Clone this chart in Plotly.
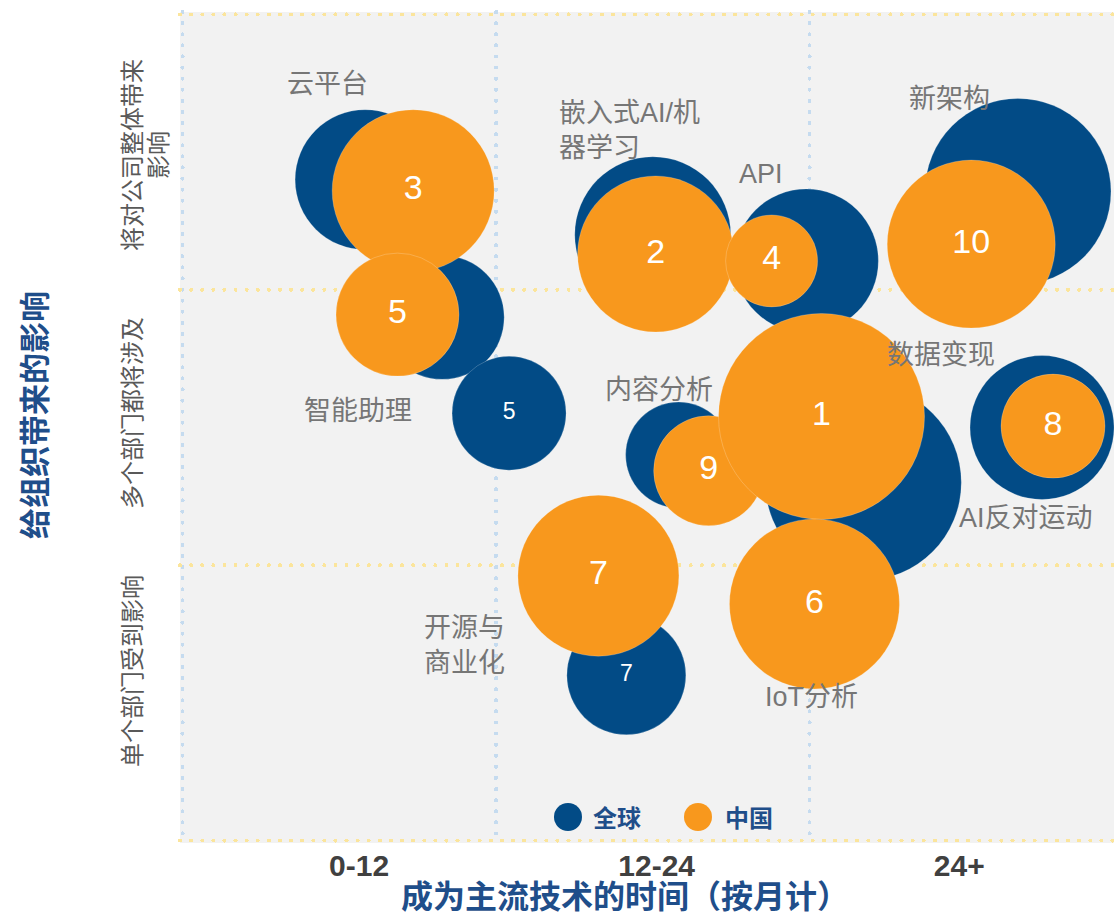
import plotly.graph_objects as go

# ---------------- data ----------------
# x: months until mainstream (0-36), y: impact level (0-3)
global_x = [6.99, 18.0, 23.88, 31.98, 9.94, 12.50, 18.99, 26.06, 32.90, 16.99]
global_y = [2.40, 2.20, 2.105, 2.357, 1.90, 1.552, 1.40, 1.30, 1.50, 0.60]
global_size = [140, 156, 144, 186, 124, 114, 106, 196, 144, 119]
global_rank = ["", "", "", "", "", "5", "", "", "", "7"]

china_x = [8.83, 8.23, 18.11, 22.55, 30.19, 20.14, 24.46, 33.32, 15.92, 24.19]
china_y = [2.36, 1.91, 2.13, 2.105, 2.166, 1.343, 1.54, 1.505, 0.962, 0.859]
china_size = [162, 123, 156, 92, 168, 110, 206, 104, 161, 170]
china_rank = ["3", "5", "2", "4", "10", "9", "1", "8", "7", "6"]

tech_labels = ["云平台", "嵌入式AI/机<br>器学习", "API", "新架构", "智能助理",
               "内容分析", "数据变现", "AI反对运动", "开源与<br>商业化", "IoT分析"]
label_x = [5.54, 14.33, 22.16, 29.35, 6.73, 18.23, 29.04, 32.29, 10.78, 24.07]
label_y = [2.747, 2.578, 2.419, 2.693, 1.56, 1.635, 1.765, 1.173, 0.708, 0.52]
label_anchor = ["center", "left", "center", "center", "center",
                "center", "center", "center", "center", "center"]

x_ticks = ["0-12", "12-24", "24+"]
x_tick_pos = [6.76, 18.15, 29.73]
y_levels = ["单个部门受到影响", "多个部门都将涉及", "将对公司整体带来"]
series_names = ["全球", "中国"]

# ---------------- style ----------------
BLUE = "#024B86"
ORANGE = "#F8981D"
TITLE_BLUE = "#1F4E8A"
GRAY = "#767676"
FONT = "Liberation Sans, Arial, Noto Sans CJK SC, sans-serif"

W, H = 1114, 915
ML, MR, MT, MB = 180, 0, 12, 72
PW, PH = W - ML - MR, H - MT - MB
PX_PER_MONTH = 313.5 / 12
X_MAX = PW / PX_PER_MONTH
EPS_X = 2.5 / PX_PER_MONTH
EPS_Y = 2.5 / (PH / 3)


def px2paper(px, py):
    return (px - ML) / PW, (H - MB - py) / PH


fig = go.Figure()

fig.add_trace(go.Scatter(
    x=global_x, y=global_y, mode="markers+text", name=series_names[0],
    text=global_rank, textposition="middle center",
    textfont=dict(color="white", size=23, family=FONT),
    marker=dict(size=global_size, sizemode="diameter", sizeref=1, color=BLUE,
                opacity=1, line=dict(width=0.6, color="rgba(255,255,255,0.35)")),
    showlegend=False, hoverinfo="skip",
))
fig.add_trace(go.Scatter(
    x=china_x, y=china_y, mode="markers+text", name=series_names[1],
    text=china_rank, textposition="middle center",
    textfont=dict(color="white", size=34, family=FONT),
    marker=dict(size=china_size, sizemode="diameter", sizeref=1, color=ORANGE,
                opacity=1, line=dict(width=0.6, color="rgba(255,255,255,0.35)")),
    showlegend=False, hoverinfo="skip",
))

annotations = []
for t, lx, ly, anc in zip(tech_labels, label_x, label_y, label_anchor):
    annotations.append(dict(
        x=lx, y=ly, xref="x", yref="y", text=t, showarrow=False,
        xanchor=anc, yanchor="middle", align="left" if anc == "left" else "center",
        font=dict(size=27, color=GRAY, family=FONT),
    ))

# y-level labels (rotated)
ylab_px = [(132, 671), (132, 413), (132, 155)]
for txt, (px, py) in zip(y_levels, ylab_px):
    xp, yp = px2paper(px, py)
    annotations.append(dict(x=xp, y=yp, xref="paper", yref="paper", text=txt,
                            showarrow=False, textangle=-90, xanchor="center", yanchor="middle",
                            font=dict(size=24, color="#595959", family=FONT)))
xp, yp = px2paper(158, 155)
annotations.append(dict(x=xp, y=yp, xref="paper", yref="paper", text="影响",
                        showarrow=False, textangle=-90, xanchor="center", yanchor="middle",
                        font=dict(size=24, color="#595959", family=FONT)))

# axis titles
xp, yp = px2paper(35, 415)
annotations.append(dict(x=xp, y=yp, xref="paper", yref="paper", text="<b>给组织带来的影响</b>",
                        showarrow=False, textangle=-90, xanchor="center", yanchor="middle",
                        font=dict(size=31, color=TITLE_BLUE, family=FONT)))
xp, yp = px2paper(625, 897)
annotations.append(dict(x=xp, y=yp, xref="paper", yref="paper",
                        text="<b>成为主流技术的时间（按月计）</b>",
                        showarrow=False, xanchor="center", yanchor="middle",
                        font=dict(size=32, color=TITLE_BLUE, family=FONT)))

# legend
shapes = []
legend_items = [(series_names[0], BLUE, 568, 617), (series_names[1], ORANGE, 698, 749)]
for name, col, cx, tx in legend_items:
    xp, yp = px2paper(cx, 817)
    shapes.append(dict(type="circle", xref="paper", yref="paper",
                       xsizemode="pixel", ysizemode="pixel", xanchor=xp, yanchor=yp,
                       x0=-14, x1=14, y0=-14, y1=14, fillcolor=col, line=dict(width=0)))
    xp, yp = px2paper(tx, 818)
    annotations.append(dict(x=xp, y=yp, xref="paper", yref="paper", text=f"<b>{name}</b>",
                            showarrow=False, xanchor="center", yanchor="middle",
                            font=dict(size=24, color=TITLE_BLUE, family=FONT)))

fig.update_layout(
    width=W, height=H,
    margin=dict(l=ML, r=MR, t=MT, b=MB, pad=0),
    paper_bgcolor="white", plot_bgcolor="#F2F2F2",
    annotations=annotations, shapes=shapes,
    font=dict(family=FONT),
)
fig.update_xaxes(
    range=[-EPS_X, X_MAX - EPS_X], showgrid=False, zeroline=False, showline=False,
    tickvals=x_tick_pos, ticktext=x_ticks, ticks="",
    tickfont=dict(size=30, color="#404040", family=FONT, weight="bold"),
    ticklabelstandoff=2,
    minor=dict(tickvals=[0, 12, 24], showgrid=True, gridcolor="#C5DBEF",
               gridwidth=4, griddash="0.1px,11px", ticks=""),
    fixedrange=True,
)
fig.update_yaxes(
    range=[-EPS_Y, 3 + EPS_Y], showgrid=False, zeroline=False, showline=False,
    showticklabels=False, ticks="",
    minor=dict(tickvals=[0, 1, 2, 3], showgrid=True, gridcolor="#FBE59C",
               gridwidth=4, griddash="0.1px,11px", ticks=""),
    fixedrange=True,
)

post = """
document.body.style.margin = '0';
document.body.style.padding = '0';
document.documentElement.style.overflow = 'hidden';
document.querySelectorAll('.gridlayer path, .minor-gridlayer path').forEach(function(p){
  p.style.strokeLinecap = 'round';
});
"""
fig.write_html("out.html", post_script=post, config={"displayModeBar": False})
